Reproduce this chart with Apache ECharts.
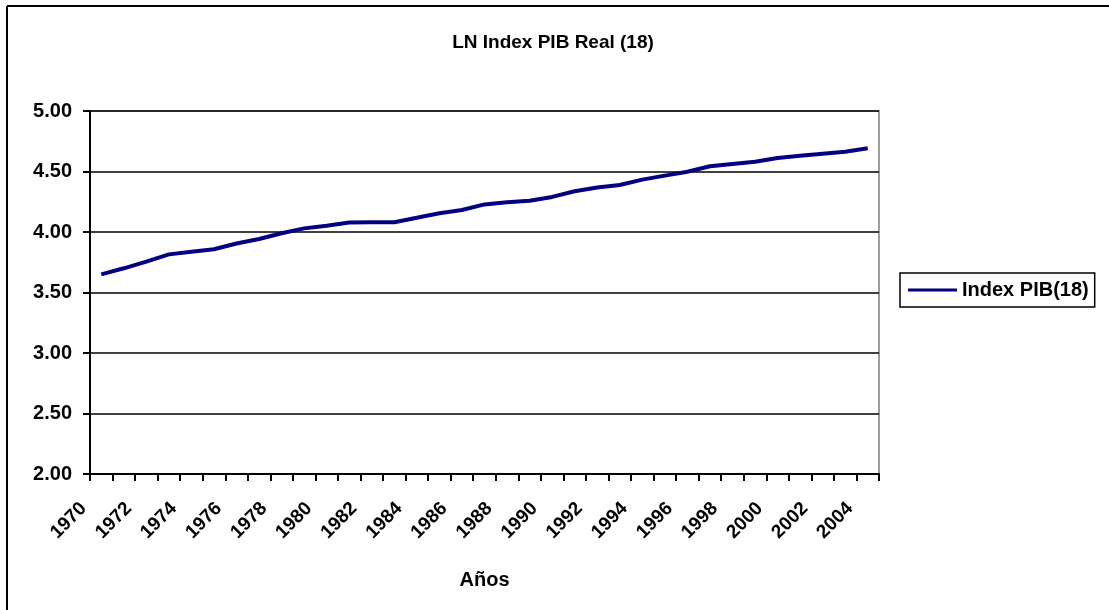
<!DOCTYPE html>
<html>
<head>
<meta charset="utf-8">
<script src="https://cdn.jsdelivr.net/npm/echarts@6/dist/echarts.min.js"></script>
<style>
html,body{margin:0;padding:0;background:#fff;}
#chart{width:1109px;height:610px;}
</style>
</head>
<body>
<div id="chart"></div>
<script>
const years = ['1970','1971','1972','1973','1974','1975','1976','1977','1978','1979',
  '1980','1981','1982','1983','1984','1985','1986','1987','1988','1989',
  '1990','1991','1992','1993','1994','1995','1996','1997','1998','1999',
  '2000','2001','2002','2003','2004'];
const indexPIB18 = [3.65,3.70,3.755,3.815,3.837,3.857,3.905,3.942,3.99,4.03,
  4.052,4.078,4.08,4.08,4.118,4.155,4.182,4.228,4.245,4.259,
  4.29,4.337,4.368,4.388,4.433,4.466,4.498,4.543,4.562,4.581,
  4.612,4.63,4.647,4.664,4.692];
const seriesName = 'Index PIB(18)';
const chartTitle = 'LN Index PIB Real (18)';
const xTitle = 'Años';

const FONT = '"Liberation Sans", Arial, sans-serif';
const chart = echarts.init(document.getElementById('chart'), null, {renderer:'canvas'});
chart.setOption({
  animation: false,
  backgroundColor: '#fff',
  title: {
    text: chartTitle,
    left: 548, top: 28, textAlign: 'center',
    textStyle: {fontFamily: FONT, fontWeight: 'bold', fontSize: 19, color: '#000'}
  },
  legend: {
    left: 900, top: 273,
    padding: [7, 6, 7, 8],
    itemWidth: 49, itemHeight: 3, itemGap: 0,
    icon: 'rect',
    borderColor: '#000', borderWidth: 1.5,
    textStyle: {fontFamily: FONT, fontWeight: 'bold', fontSize: 20, color: '#000', padding: [0,0,0,0]},
    data: [{name: seriesName}]
  },
  grid: {
    left: 90, right: 230, top: 111, bottom: 136,
    show: true, borderColor: '#808080', borderWidth: 1.5, backgroundColor: '#fff'
  },
  xAxis: {
    type: 'category',
    data: years,
    boundaryGap: true,
    name: xTitle, nameLocation: 'middle', nameGap: 96,
    nameTextStyle: {fontFamily: FONT, fontWeight: 'bold', fontSize: 20, color: '#000'},
    axisLine: {lineStyle: {color: '#000', width: 2}},
    axisTick: {show: true, interval: 0, length: 7, lineStyle: {color: '#000', width: 2}},
    axisLabel: {interval: 1, rotate: 45, margin: 14, padding: [0, 25, 0, 0],
      fontFamily: FONT, fontWeight: 'bold', fontSize: 19, color: '#000'},
    splitLine: {show: false}
  },
  yAxis: {
    type: 'value',
    min: 2, max: 5, interval: 0.5,
    axisLine: {show: true, lineStyle: {color: '#000', width: 2}},
    axisTick: {show: true, length: 7, lineStyle: {color: '#000', width: 2}},
    axisLabel: {margin: 18, fontFamily: FONT, fontWeight: 'bold', fontSize: 20, color: '#000',
      formatter: v => v.toFixed(2)},
    splitLine: {show: true, lineStyle: {color: '#000', width: 1.5}}
  },
  series: [{
    name: seriesName,
    type: 'line',
    data: indexPIB18,
    symbol: 'none',
    lineStyle: {color: '#000080', width: 4},
    itemStyle: {color: '#000080'}
  }],
  graphic: [
    {type: 'line', shape: {x1: 7, y1: 6, x2: 1109, y2: 6}, style: {stroke: '#000', lineWidth: 2}},
    {type: 'line', shape: {x1: 7, y1: 6, x2: 7, y2: 610}, style: {stroke: '#000', lineWidth: 2}}
  ]
});
</script>
</body>
</html>
